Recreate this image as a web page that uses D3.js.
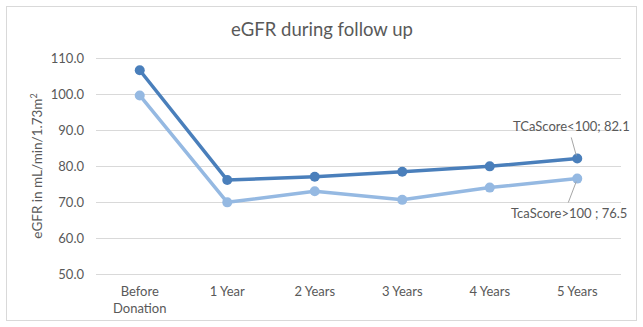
<!DOCTYPE html>
<html>
<head>
<meta charset="utf-8">
<script src="https://cdn.jsdelivr.net/npm/d3@7"></script>
<style>
  body { margin: 0; background: #fff; }
  text { font-family: Lato, "Open Sans", sans-serif; fill: #595959; }
</style>
</head>
<body>
<script>
(function() {
  'use strict';

  var width = 643,
      height = 327,
      margin = {left: 96, right: 22, top: 58, bottom: 53};

  // data
  var categories = ["Before|Donation", "1 Year", "2 Years", "3 Years", "4 Years", "5 Years"];
  var lowScore  = [106.6, 76.1, 77.0, 78.4, 79.9, 82.1];   // TCaScore<100
  var highScore = [99.6, 69.9, 73.0, 70.6, 74.0, 76.5];    // TcaScore>100
  var seriesNames = ["TCaScore<100; ", "TcaScore>100 ; "];
  var yTicks = [50, 60, 70, 80, 90, 100, 110];

  var svg = d3.select("body").append("svg")
      .attr("width", width)
      .attr("height", height);

  // chart area border
  svg.append("rect")
     .attr("x", 6.5).attr("y", 6.5)
     .attr("width", 630).attr("height", 314)
     .attr("fill", "#fff")
     .attr("stroke", "#d9d9d9");

  var x = d3.scaleBand()
      .domain(categories)
      .range([margin.left, width - margin.right]);

  var y = d3.scaleLinear()
      .domain([50, 110])
      .range([height - margin.bottom, margin.top]);

  // gridlines
  svg.append("g").selectAll("line").data(yTicks).enter()
     .append("line")
     .attr("x1", margin.left).attr("x2", width - margin.right)
     .attr("y1", function(d) { return Math.round(y(d)) + 0.5; })
     .attr("y2", function(d) { return Math.round(y(d)) + 0.5; })
     .attr("stroke", "#d9d9d9")
     .attr("stroke-width", 1);

  // y axis labels
  var yAxis = svg.append("g")
      .attr("transform", "translate(" + (margin.left - 12) + ",0)")
      .call(d3.axisLeft(y).tickValues(yTicks).tickSize(0).tickFormat(d3.format(".1f")));
  yAxis.select(".domain").remove();
  yAxis.selectAll("text")
       .style("font-family", "Lato, 'Open Sans', sans-serif")
       .style("font-size", "13px")
       .attr("fill", "#595959")
       .attr("x", 0);

  // x axis labels (two lines for first)
  var xg = svg.append("g")
      .attr("transform", "translate(0," + (height - margin.bottom) + ")")
      .call(d3.axisBottom(x).tickSize(0).tickFormat(""));
  xg.select(".domain").remove();
  xg.selectAll(".tick").each(function(d) {
    var t = d3.select(this).append("text")
        .attr("text-anchor", "middle")
        .style("font-size", "13px")
        .attr("fill", "#595959");
    d.split("|").forEach(function(part, i) {
      t.append("tspan").attr("x", 0).attr("y", 22 + i * 17).text(part);
    });
  });

  // y axis title
  var yt = svg.append("text")
      .attr("transform", "translate(42," + (y(80)) + ") rotate(-90)")
      .attr("text-anchor", "middle")
      .style("font-size", "13.5px");
  yt.append("tspan").text("eGFR in mL/min/1.73m");
  yt.append("tspan").attr("dy", -5).style("font-size", "9px").text("2");

  // title
  svg.append("text")
     .attr("x", 322).attr("y", 36)
     .attr("text-anchor", "middle")
     .style("font-size", "18.5px")
     .text("eGFR during follow up");

  var line = d3.line()
      .x(function(d, i) { return x(categories[i]) + x.bandwidth() / 2; })
      .y(function(d) { return y(d); });

  var series = [
    {values: highScore, color: "#95b9e2"},
    {values: lowScore, color: "#4a7fbb"}
  ];

  series.forEach(function(s) {
    svg.append("path")
       .datum(s.values)
       .attr("d", line)
       .attr("fill", "none")
       .attr("stroke", s.color)
       .attr("stroke-width", 3.5)
       .attr("stroke-linejoin", "round");

    svg.append("g").selectAll("circle").data(s.values).enter()
       .append("circle")
       .attr("cx", function(d, i) { return x(categories[i]) + x.bandwidth() / 2; })
       .attr("cy", function(d) { return y(d); })
       .attr("r", 5)
       .attr("fill", s.color);
  });

  // data labels on last point
  var last = categories.length - 1,
      lx = x(categories[last]) + x.bandwidth() / 2;

  // upper label (low score series)
  var ly1 = y(lowScore[last]);
  svg.append("line")
     .attr("x1", lx - 6).attr("y1", ly1 - 21)
     .attr("x2", lx - 1).attr("y2", ly1 - 3)
     .attr("stroke", "#a6a6a6").attr("stroke-width", 1);
  svg.append("text")
     .attr("x", 513).attr("y", ly1 - 27)
     .style("font-size", "13px")
     .text(seriesNames[0] + lowScore[last].toFixed(1));

  // lower label (high score series)
  var ly2 = y(highScore[last]);
  svg.append("line")
     .attr("x1", lx - 1).attr("y1", ly2 + 3)
     .attr("x2", lx - 9).attr("y2", ly2 + 24)
     .attr("stroke", "#a6a6a6").attr("stroke-width", 1);
  svg.append("text")
     .attr("x", 511).attr("y", ly2 + 39)
     .style("font-size", "13px")
     .text(seriesNames[1] + highScore[last].toFixed(1));
})();
</script>
</body>
</html>
